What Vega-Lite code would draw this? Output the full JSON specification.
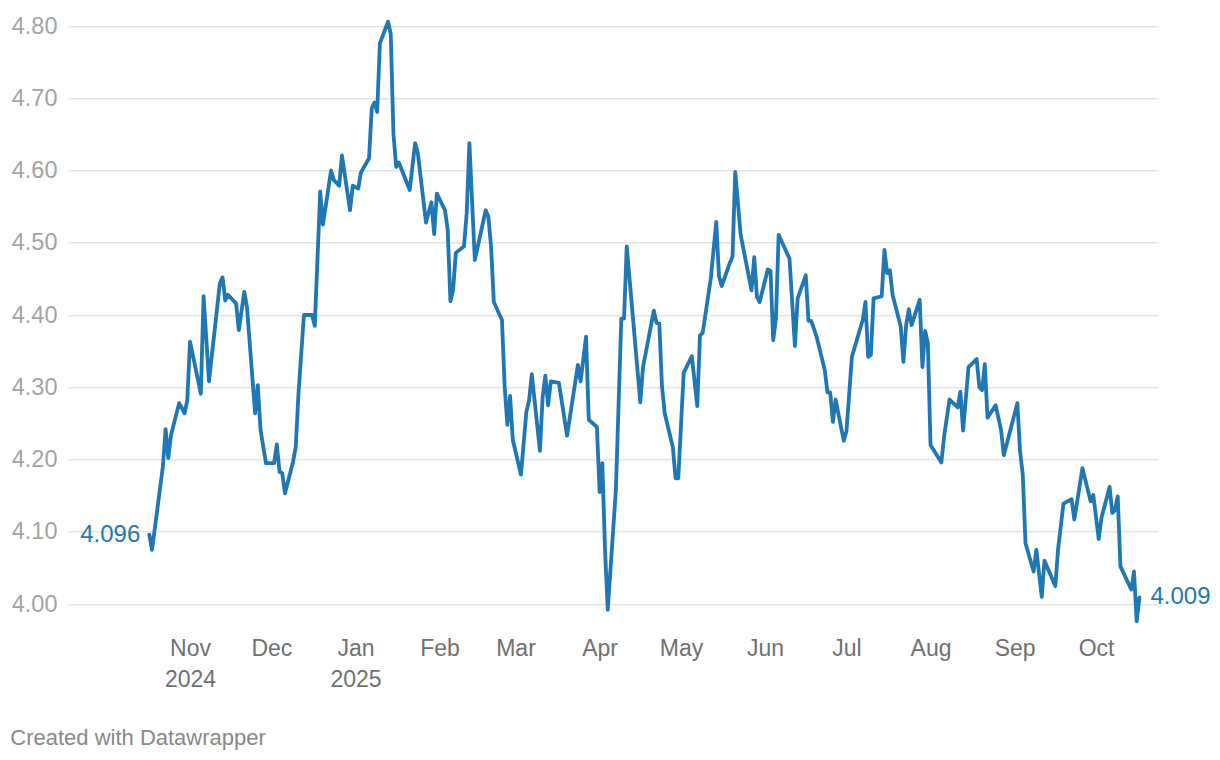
{
  "$schema": "https://vega.github.io/schema/vega-lite/v6.json",
  "width": 1090,
  "height": 621.35,
  "autosize": {"type": "none"},
  "padding": {"left": 68, "top": 4.325, "right": 62, "bottom": 134.325},
  "background": "white",
  "config": {"view": {"stroke": null}, "font": "Liberation Sans"},
  "title": {"text": "Created with Datawrapper", "orient": "bottom", "anchor": "start", "dx": -1, "offset": 36, "fontSize": 22, "fontWeight": "normal", "color": "#888888", "font": "Liberation Sans"},
  "data": {"values": [
    {"date": "2024-10-17", "value": 4.096},
    {"date": "2024-10-18", "value": 4.075},
    {"date": "2024-10-22", "value": 4.190},
    {"date": "2024-10-23", "value": 4.242},
    {"date": "2024-10-24", "value": 4.202},
    {"date": "2024-10-25", "value": 4.234},
    {"date": "2024-10-28", "value": 4.278},
    {"date": "2024-10-30", "value": 4.264},
    {"date": "2024-10-31", "value": 4.282},
    {"date": "2024-11-01", "value": 4.363},
    {"date": "2024-11-05", "value": 4.291},
    {"date": "2024-11-06", "value": 4.426},
    {"date": "2024-11-08", "value": 4.308},
    {"date": "2024-11-12", "value": 4.444},
    {"date": "2024-11-13", "value": 4.452},
    {"date": "2024-11-14", "value": 4.420},
    {"date": "2024-11-15", "value": 4.428},
    {"date": "2024-11-18", "value": 4.416},
    {"date": "2024-11-19", "value": 4.379},
    {"date": "2024-11-21", "value": 4.432},
    {"date": "2024-11-22", "value": 4.411},
    {"date": "2024-11-25", "value": 4.264},
    {"date": "2024-11-26", "value": 4.303},
    {"date": "2024-11-27", "value": 4.241},
    {"date": "2024-11-29", "value": 4.195},
    {"date": "2024-12-02", "value": 4.195},
    {"date": "2024-12-03", "value": 4.221},
    {"date": "2024-12-04", "value": 4.183},
    {"date": "2024-12-05", "value": 4.181},
    {"date": "2024-12-06", "value": 4.153},
    {"date": "2024-12-09", "value": 4.197},
    {"date": "2024-12-10", "value": 4.218},
    {"date": "2024-12-11", "value": 4.292},
    {"date": "2024-12-13", "value": 4.400},
    {"date": "2024-12-16", "value": 4.400},
    {"date": "2024-12-17", "value": 4.385},
    {"date": "2024-12-19", "value": 4.571},
    {"date": "2024-12-20", "value": 4.525},
    {"date": "2024-12-23", "value": 4.600},
    {"date": "2024-12-24", "value": 4.587},
    {"date": "2024-12-26", "value": 4.579},
    {"date": "2024-12-27", "value": 4.621},
    {"date": "2024-12-30", "value": 4.545},
    {"date": "2024-12-31", "value": 4.579},
    {"date": "2025-01-02", "value": 4.575},
    {"date": "2025-01-03", "value": 4.597},
    {"date": "2025-01-06", "value": 4.617},
    {"date": "2025-01-07", "value": 4.686},
    {"date": "2025-01-08", "value": 4.694},
    {"date": "2025-01-09", "value": 4.681},
    {"date": "2025-01-10", "value": 4.776},
    {"date": "2025-01-13", "value": 4.806},
    {"date": "2025-01-14", "value": 4.789},
    {"date": "2025-01-15", "value": 4.651},
    {"date": "2025-01-16", "value": 4.605},
    {"date": "2025-01-17", "value": 4.611},
    {"date": "2025-01-21", "value": 4.573},
    {"date": "2025-01-23", "value": 4.638},
    {"date": "2025-01-24", "value": 4.624},
    {"date": "2025-01-27", "value": 4.528},
    {"date": "2025-01-29", "value": 4.556},
    {"date": "2025-01-30", "value": 4.512},
    {"date": "2025-01-31", "value": 4.568},
    {"date": "2025-02-03", "value": 4.545},
    {"date": "2025-02-04", "value": 4.518},
    {"date": "2025-02-05", "value": 4.419},
    {"date": "2025-02-06", "value": 4.435},
    {"date": "2025-02-07", "value": 4.486},
    {"date": "2025-02-10", "value": 4.495},
    {"date": "2025-02-11", "value": 4.541},
    {"date": "2025-02-12", "value": 4.638},
    {"date": "2025-02-14", "value": 4.476},
    {"date": "2025-02-18", "value": 4.545},
    {"date": "2025-02-19", "value": 4.536},
    {"date": "2025-02-20", "value": 4.494},
    {"date": "2025-02-21", "value": 4.418},
    {"date": "2025-02-24", "value": 4.393},
    {"date": "2025-02-25", "value": 4.301},
    {"date": "2025-02-26", "value": 4.248},
    {"date": "2025-02-27", "value": 4.288},
    {"date": "2025-02-28", "value": 4.227},
    {"date": "2025-03-03", "value": 4.179},
    {"date": "2025-03-05", "value": 4.266},
    {"date": "2025-03-06", "value": 4.282},
    {"date": "2025-03-07", "value": 4.318},
    {"date": "2025-03-10", "value": 4.212},
    {"date": "2025-03-11", "value": 4.287},
    {"date": "2025-03-12", "value": 4.316},
    {"date": "2025-03-13", "value": 4.275},
    {"date": "2025-03-14", "value": 4.308},
    {"date": "2025-03-17", "value": 4.306},
    {"date": "2025-03-20", "value": 4.233},
    {"date": "2025-03-24", "value": 4.331},
    {"date": "2025-03-25", "value": 4.308},
    {"date": "2025-03-27", "value": 4.370},
    {"date": "2025-03-28", "value": 4.255},
    {"date": "2025-03-31", "value": 4.245},
    {"date": "2025-04-01", "value": 4.155},
    {"date": "2025-04-02", "value": 4.195},
    {"date": "2025-04-03", "value": 4.075},
    {"date": "2025-04-04", "value": 3.992},
    {"date": "2025-04-07", "value": 4.158},
    {"date": "2025-04-09", "value": 4.395},
    {"date": "2025-04-10", "value": 4.395},
    {"date": "2025-04-11", "value": 4.495},
    {"date": "2025-04-16", "value": 4.279},
    {"date": "2025-04-17", "value": 4.328},
    {"date": "2025-04-21", "value": 4.406},
    {"date": "2025-04-22", "value": 4.389},
    {"date": "2025-04-23", "value": 4.388},
    {"date": "2025-04-24", "value": 4.301},
    {"date": "2025-04-25", "value": 4.264},
    {"date": "2025-04-28", "value": 4.217},
    {"date": "2025-04-29", "value": 4.174},
    {"date": "2025-04-30", "value": 4.174},
    {"date": "2025-05-02", "value": 4.320},
    {"date": "2025-05-05", "value": 4.343},
    {"date": "2025-05-07", "value": 4.274},
    {"date": "2025-05-08", "value": 4.372},
    {"date": "2025-05-09", "value": 4.375},
    {"date": "2025-05-12", "value": 4.451},
    {"date": "2025-05-14", "value": 4.529},
    {"date": "2025-05-15", "value": 4.454},
    {"date": "2025-05-16", "value": 4.440},
    {"date": "2025-05-19", "value": 4.472},
    {"date": "2025-05-20", "value": 4.481},
    {"date": "2025-05-21", "value": 4.598},
    {"date": "2025-05-23", "value": 4.511},
    {"date": "2025-05-27", "value": 4.434},
    {"date": "2025-05-28", "value": 4.480},
    {"date": "2025-05-29", "value": 4.425},
    {"date": "2025-05-30", "value": 4.418},
    {"date": "2025-06-02", "value": 4.463},
    {"date": "2025-06-03", "value": 4.461},
    {"date": "2025-06-04", "value": 4.365},
    {"date": "2025-06-05", "value": 4.395},
    {"date": "2025-06-06", "value": 4.511},
    {"date": "2025-06-10", "value": 4.478},
    {"date": "2025-06-12", "value": 4.357},
    {"date": "2025-06-13", "value": 4.423},
    {"date": "2025-06-16", "value": 4.455},
    {"date": "2025-06-17", "value": 4.392},
    {"date": "2025-06-18", "value": 4.392},
    {"date": "2025-06-20", "value": 4.370},
    {"date": "2025-06-23", "value": 4.324},
    {"date": "2025-06-24", "value": 4.293},
    {"date": "2025-06-25", "value": 4.293},
    {"date": "2025-06-26", "value": 4.252},
    {"date": "2025-06-27", "value": 4.283},
    {"date": "2025-06-30", "value": 4.226},
    {"date": "2025-07-01", "value": 4.239},
    {"date": "2025-07-03", "value": 4.342},
    {"date": "2025-07-07", "value": 4.393},
    {"date": "2025-07-08", "value": 4.418},
    {"date": "2025-07-09", "value": 4.342},
    {"date": "2025-07-10", "value": 4.345},
    {"date": "2025-07-11", "value": 4.423},
    {"date": "2025-07-14", "value": 4.426},
    {"date": "2025-07-15", "value": 4.490},
    {"date": "2025-07-16", "value": 4.458},
    {"date": "2025-07-17", "value": 4.462},
    {"date": "2025-07-18", "value": 4.428},
    {"date": "2025-07-21", "value": 4.384},
    {"date": "2025-07-22", "value": 4.335},
    {"date": "2025-07-23", "value": 4.386},
    {"date": "2025-07-24", "value": 4.408},
    {"date": "2025-07-25", "value": 4.386},
    {"date": "2025-07-28", "value": 4.421},
    {"date": "2025-07-29", "value": 4.328},
    {"date": "2025-07-30", "value": 4.378},
    {"date": "2025-07-31", "value": 4.361},
    {"date": "2025-08-01", "value": 4.220},
    {"date": "2025-08-05", "value": 4.196},
    {"date": "2025-08-06", "value": 4.232},
    {"date": "2025-08-08", "value": 4.283},
    {"date": "2025-08-11", "value": 4.272},
    {"date": "2025-08-12", "value": 4.294},
    {"date": "2025-08-13", "value": 4.240},
    {"date": "2025-08-15", "value": 4.328},
    {"date": "2025-08-18", "value": 4.339},
    {"date": "2025-08-19", "value": 4.300},
    {"date": "2025-08-20", "value": 4.296},
    {"date": "2025-08-21", "value": 4.332},
    {"date": "2025-08-22", "value": 4.258},
    {"date": "2025-08-25", "value": 4.275},
    {"date": "2025-08-27", "value": 4.241},
    {"date": "2025-08-28", "value": 4.206},
    {"date": "2025-09-02", "value": 4.278},
    {"date": "2025-09-03", "value": 4.211},
    {"date": "2025-09-04", "value": 4.179},
    {"date": "2025-09-05", "value": 4.084},
    {"date": "2025-09-08", "value": 4.045},
    {"date": "2025-09-09", "value": 4.075},
    {"date": "2025-09-11", "value": 4.010},
    {"date": "2025-09-12", "value": 4.060},
    {"date": "2025-09-16", "value": 4.025},
    {"date": "2025-09-17", "value": 4.075},
    {"date": "2025-09-19", "value": 4.139},
    {"date": "2025-09-22", "value": 4.145},
    {"date": "2025-09-23", "value": 4.117},
    {"date": "2025-09-26", "value": 4.188},
    {"date": "2025-09-29", "value": 4.142},
    {"date": "2025-09-30", "value": 4.151},
    {"date": "2025-10-02", "value": 4.090},
    {"date": "2025-10-03", "value": 4.119},
    {"date": "2025-10-06", "value": 4.162},
    {"date": "2025-10-07", "value": 4.126},
    {"date": "2025-10-08", "value": 4.130},
    {"date": "2025-10-09", "value": 4.149},
    {"date": "2025-10-10", "value": 4.052},
    {"date": "2025-10-14", "value": 4.020},
    {"date": "2025-10-15", "value": 4.045},
    {"date": "2025-10-16", "value": 3.976},
    {"date": "2025-10-17", "value": 4.009}
  ]},
  "encoding": {
    "x": {
      "field": "date", "type": "temporal",
      "scale": {"type": "utc", "domain": [1726533300000, 1761251040000], "nice": false},
      "axis": {
        "title": null, "domain": false, "ticks": false, "grid": false,
        "values": [1730419200000, 1733011200000, 1735689600000, 1738368000000, 1740787200000, 1743465600000, 1746057600000, 1748736000000, 1751328000000, 1754006400000, 1756684800000, 1759276800000],
        "labelExpr": "utcmonth(datum.value) == 0 || (utcmonth(datum.value) == 10 && utcyear(datum.value) == 2024) ? [utcFormat(datum.value, '%b'), utcFormat(datum.value, '%Y')] : utcFormat(datum.value, '%b')",
        "labelFontSize": 23, "labelColor": "#707070", "labelPadding": 12, "labelLineHeight": 31,
        "labelFont": "Liberation Sans", "labelOverlap": false, "labelFlush": false
      }
    },
    "y": {
      "field": "value", "type": "quantitative",
      "scale": {"domain": [3.97, 4.83], "nice": false, "zero": false},
      "axis": {
        "title": null, "domain": false, "ticks": false,
        "values": [4.0, 4.1, 4.2, 4.3, 4.4, 4.5, 4.6, 4.7, 4.8],
        "format": ".2f",
        "labelFontSize": 23.5, "labelColor": "#a3a3a3", "labelPadding": 11,
        "labelFont": "Liberation Sans",
        "gridColor": "#e4e4e4", "gridWidth": 1.5
      }
    }
  },
  "layer": [
    {
      "mark": {"type": "line", "color": "#1f77b4", "strokeWidth": 3.8, "strokeJoin": "round", "strokeCap": "round", "clip": false}
    },
    {
      "transform": [{"filter": "utcyear(datum.date) == 2024 && utcmonth(datum.date) == 9 && utcdate(datum.date) == 17"}],
      "mark": {"type": "text", "align": "right", "baseline": "middle", "dx": -9, "fontSize": 24, "color": "#1f77b4", "font": "Liberation Sans"},
      "encoding": {"text": {"field": "value", "type": "quantitative", "format": ".3f"}}
    },
    {
      "transform": [{"filter": "utcyear(datum.date) == 2025 && utcmonth(datum.date) == 9 && utcdate(datum.date) == 17"}],
      "mark": {"type": "text", "align": "left", "baseline": "middle", "dx": 11, "fontSize": 24, "color": "#1f77b4", "font": "Liberation Sans"},
      "encoding": {"text": {"field": "value", "type": "quantitative", "format": ".3f"}}
    }
  ]
}
